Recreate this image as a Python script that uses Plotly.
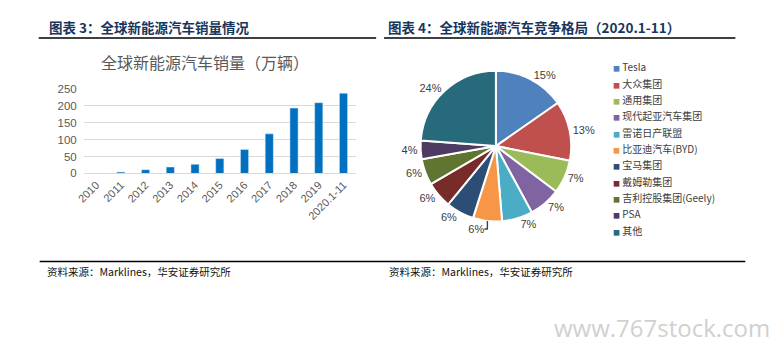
import plotly.graph_objects as go

W, H = 774, 355

years = ["2010", "2011", "2012", "2013", "2014", "2015", "2016", "2017", "2018", "2019", "2020.1-11"]
sales = [1, 4, 11, 19, 27, 44, 71, 117, 193, 209, 237]

brands = ["Tesla", "大众集团", "通用集团", "现代起亚汽车集团", "雷诺日产联盟", "比亚迪汽车(BYD)",
          "宝马集团", "戴姆勒集团", "吉利控股集团(Geely)", "PSA", "其他"]
shares = [15.3, 12.8, 7.2, 6.8, 6.6, 6.2, 6.0, 5.7, 5.6, 4.0, 23.8]
colors = ["#4F81BD", "#C0504D", "#9BBB59", "#8064A2", "#4BACC6", "#F79646",
          "#2C4D75", "#772C2A", "#5F7530", "#4D3B62", "#276A7C"]

yticks = [0, 50, 100, 150, 200, 250]

def px(x):
    return x / W

def py(y):
    return 1 - y / H

fig = go.Figure()

fig.add_trace(go.Bar(
    x=years, y=sales, marker_color="#0070C0", width=0.33,
    xaxis="x", yaxis="y", showlegend=False,
))

fig.add_trace(go.Pie(
    labels=brands, values=shares, sort=False, direction="clockwise", rotation=0,
    marker=dict(colors=colors, line=dict(color="white", width=2)),
    textposition="outside", texttemplate="%{percent:.0%}",
    textfont=dict(size=11, color="#404040", family="Liberation Sans"),
    domain=dict(x=[px(415), px(571)], y=[py(223), py(67)]),
    showlegend=False,
))

fig.update_layout(
    width=W, height=H,
    margin=dict(l=0, r=0, t=0, b=0),
    paper_bgcolor="white", plot_bgcolor="white",
    font=dict(family="Noto Sans CJK SC", color="#595959"),
    xaxis=dict(domain=[px(76.5), px(351.5)], anchor="y", tickangle=-45,
               tickfont=dict(size=11, color="#595959", family="Liberation Sans"),
               showline=True, linecolor="#D9D9D9", linewidth=1, ticks="",
               showgrid=False, fixedrange=True),
    yaxis=dict(domain=[py(173.3), py(85.7)], anchor="x", range=[0, 250],
               tickvals=yticks, tickfont=dict(size=11.5, color="#595959", family="Liberation Sans"),
               gridcolor="#D9D9D9", gridwidth=1, zeroline=False, showline=False,
               ticklabelstandoff=6),
    bargap=0.6,
)

shapes = [
    dict(type="line", xref="paper", yref="paper", x0=px(31), x1=px(372), y0=py(33), y1=py(33),
         line=dict(color="black", width=1.5)),
    dict(type="line", xref="paper", yref="paper", x0=px(380), x1=px(735), y0=py(33), y1=py(33),
         line=dict(color="black", width=1.5)),
    dict(type="line", xref="paper", yref="paper", x0=px(32), x1=px(745), y0=py(264.5), y1=py(264.5),
         line=dict(color="black", width=1.5)),
]
fig.update_layout(shapes=shapes)

ann = []
title_font = dict(family="Noto Sans CJK SC", size=13.5, color="#17365D")
ann.append(dict(text="<b>图表 3：全球新能源汽车销量情况</b>", x=px(39), y=py(22), xref="paper", yref="paper",
                xanchor="left", yanchor="middle", showarrow=False, font=title_font))
ann.append(dict(text="<b>图表 4：全球新能源汽车竞争格局（2020.1-11）</b>", x=px(382), y=py(22), xref="paper", yref="paper",
                xanchor="left", yanchor="middle", showarrow=False, font=title_font))
ann.append(dict(text="全球新能源汽车销量（万辆）", x=px(199), y=py(58), xref="paper", yref="paper",
                xanchor="center", yanchor="middle", showarrow=False,
                font=dict(family="Noto Sans CJK SC", size=16, color="#595959")))
foot_font = dict(family="Noto Sans CJK SC", size=10.5, color="#111111")
for fx in (37, 383):
    ann.append(dict(text="资料来源：Marklines，华安证券研究所", x=px(fx), y=py(275), xref="paper", yref="paper",
                    xanchor="left", yanchor="middle", showarrow=False, font=foot_font))
ann.append(dict(text="www.767stock.com", x=px(772), y=py(333), xref="paper", yref="paper",
                xanchor="right", yanchor="middle", showarrow=False,
                font=dict(family="Open Sans", size=24, color="#D0D0D0")))

# manual legend
leg_x, leg_y0, leg_step = 609, 63, 16.9
for i, (b, c) in enumerate(zip(brands, colors)):
    ann.append(dict(text=f"<span style='color:{c};font-size:7px'>■</span> {b}",
                    x=px(leg_x), y=py(leg_y0 + i * leg_step), xref="paper", yref="paper",
                    xanchor="left", yanchor="middle", showarrow=False,
                    font=dict(family="Noto Sans CJK SC", size=10, color="#404040")))
fig.update_layout(annotations=ann)

fig.write_html("out.html", config={"displayModeBar": False},
               post_script="document.body.style.margin='0';")
